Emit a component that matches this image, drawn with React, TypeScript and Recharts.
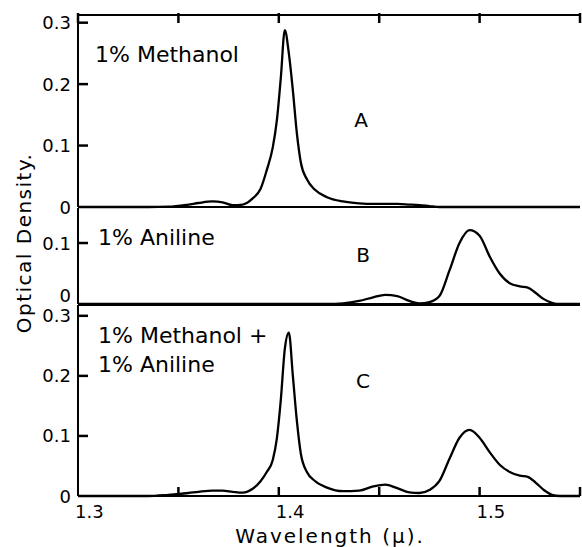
import { LineChart, Line, XAxis, YAxis, ReferenceLine } from "recharts";

// wavelength in microns
const wavelength = [
  1.3, 1.32, 1.335, 1.345, 1.355, 1.36, 1.367, 1.372, 1.377, 1.382, 1.387, 1.391,
  1.394, 1.397, 1.399, 1.401, 1.403, 1.405, 1.407, 1.409, 1.411, 1.414, 1.418,
  1.424, 1.432, 1.44, 1.447, 1.453, 1.459, 1.465, 1.47, 1.475, 1.48, 1.485, 1.49,
  1.495, 1.5, 1.505, 1.51, 1.515, 1.52, 1.524, 1.528, 1.532, 1.536, 1.54, 1.55,
];

const methanol = [
  0, 0, 0, 0.0005, 0.004, 0.0065, 0.009, 0.0075, 0.003, 0.004, 0.014, 0.03,
  0.06, 0.097, 0.14, 0.21, 0.288, 0.25, 0.19, 0.12, 0.072, 0.045, 0.028,
  0.016, 0.009, 0.006, 0.005, 0.005, 0.005, 0.004, 0.003, 0.0015, 0, 0, 0,
  0, 0, 0, 0, 0, 0, 0, 0, 0, 0, 0, 0,
];

const aniline = [
  0, 0, 0, 0, 0, 0, 0, 0, 0, 0, 0, 0,
  0, 0, 0, 0, 0, 0, 0, 0, 0, 0, 0,
  0, 0.001, 0.005, 0.011, 0.015, 0.013, 0.005, 0.001, 0.003, 0.013, 0.055, 0.1,
  0.121, 0.112, 0.078, 0.05, 0.034, 0.029, 0.027, 0.018, 0.008, 0.002, 0, 0,
];

const mixture = [
  0, 0, 0, 0.002, 0.005, 0.007, 0.009, 0.009, 0.007, 0.0055, 0.012, 0.025,
  0.04, 0.06, 0.095, 0.16, 0.245, 0.272, 0.2, 0.125, 0.07, 0.04, 0.025,
  0.014, 0.008, 0.009, 0.016, 0.019, 0.013, 0.006, 0.005, 0.01, 0.025, 0.062, 0.097,
  0.11, 0.097, 0.073, 0.052, 0.04, 0.034, 0.032, 0.022, 0.01, 0.002, 0, 0,
];

const xTicks = [1.3, 1.35, 1.4, 1.45, 1.5, 1.55];
const xTickLabels = ["1.3", "", "1.4", "", "1.5", ""];
const yTicksA = [0, 0.1, 0.2, 0.3];
const yTicksB = [0, 0.1];
const yTicksC = [0, 0.1, 0.2, 0.3];

const rows = wavelength.map((w, i) => ({
  w,
  a: methanol[i],
  b: aniline[i],
  c: mixture[i],
}));

const FONT = "DejaVu Sans";
const W = 582;
const PLOT_X = 78;
const PLOT_W = 502;
const xDomain: [number, number] = [1.3, 1.55];
const yMaxA = 0.3125;
const yMaxB = 0.1574;
const yMaxC = 0.318;
const margin = { left: 0, right: 2 };
const axisLine = { stroke: "#000", strokeWidth: 2 };

// panel frames in page pixels: zero line and height of each plot
const panels = [
  { zero: 207, h: 192, max: yMaxA, ticks: yTicksA },
  { zero: 304, h: 96, max: yMaxB, ticks: yTicksB },
  { zero: 496, h: 191, max: yMaxC, ticks: yTicksC },
];
const xPx = (w: number) => PLOT_X + ((w - xDomain[0]) / (xDomain[1] - xDomain[0])) * PLOT_W;

const yTick = (zeroDy: number) => (props: any) => {
  const { x, y, payload } = props;
  const v = payload.value;
  return (
    <text
      x={x + 1}
      y={v === 0 ? y + zeroDy : y}
      textAnchor="end"
      dominantBaseline="central"
      fontSize={18}
      fontFamily={FONT}
      fill="#000"
    >
      {v === 0 ? "0" : v.toFixed(1)}
    </text>
  );
};

const topTick = (props: any) => {
  const { x, y } = props;
  return <line x1={x} x2={x} y1={y + 6} y2={y + 16} stroke="#000" strokeWidth={2.5} />;
};

const bottomTick = (props: any) => {
  const { x, y, payload } = props;
  const label = xTickLabels[xTicks.indexOf(payload.value)] || "";
  return (
    <text x={x - 3} y={y + 14} textAnchor="start" fontSize={18} fontFamily={FONT} fill="#000">
      {label}
    </text>
  );
};

const lineProps = {
  type: "monotone" as const,
  stroke: "#000",
  strokeWidth: 2.3,
  dot: false,
  isAnimationActive: false,
};

export default function App() {
  return (
    <div style={{ position: "absolute", left: 0, top: 0, width: W, height: 547, background: "#fff" }}>
      {/* A: methanol */}
      <div style={{ position: "absolute", left: 0, top: 0 }}>
        <LineChart width={W} height={216} data={rows} margin={{ ...margin, top: 0, bottom: 9 }}>
          <XAxis
            type="number"
            dataKey="w"
            orientation="top"
            domain={xDomain}
            ticks={xTicks}
            interval={0}
            height={15}
            tickLine={false}
            tick={topTick}
            axisLine={axisLine}
          />
          <YAxis
            width={78}
            domain={[0, yMaxA]}
            ticks={yTicksA}
            interval={0}
            tickLine={false}
            tick={yTick(0)}
            axisLine={axisLine}
          />
          <ReferenceLine y={0} stroke="#000" strokeWidth={2} />
          <Line dataKey="a" {...lineProps} />
        </LineChart>
      </div>

      {/* B: aniline */}
      <div style={{ position: "absolute", left: 0, top: 204 }}>
        <LineChart width={W} height={104} data={rows} margin={{ ...margin, top: 4, bottom: 4 }}>
          <XAxis type="number" dataKey="w" domain={xDomain} hide />
          <YAxis
            width={78}
            domain={[0, yMaxB]}
            ticks={yTicksB}
            interval={0}
            tickLine={false}
            tick={yTick(-9)}
            axisLine={axisLine}
          />
          <ReferenceLine y={0} stroke="#000" strokeWidth={2} />
          <Line dataKey="b" {...lineProps} />
        </LineChart>
      </div>

      {/* C: mixture */}
      <div style={{ position: "absolute", left: 0, top: 300 }}>
        <LineChart width={W} height={236} data={rows} margin={{ ...margin, top: 5, bottom: 0 }}>
          <XAxis
            type="number"
            dataKey="w"
            domain={xDomain}
            ticks={xTicks}
            interval={0}
            height={40}
            tickLine={false}
            tick={bottomTick}
            axisLine={axisLine}
          />
          <YAxis
            width={78}
            domain={[0, yMaxC]}
            ticks={yTicksC}
            interval={0}
            tickLine={false}
            tick={yTick(0)}
            axisLine={axisLine}
          />
          <ReferenceLine y={yMaxC} stroke="#000" strokeWidth={2} />
          <Line dataKey="c" {...lineProps} />
        </LineChart>
      </div>

      {/* overlay: inward tick marks and titles */}
      <svg
        width={W}
        height={547}
        style={{ position: "absolute", left: 0, top: 0, pointerEvents: "none" }}
        fontFamily={FONT}
        fill="#000"
      >
        <g stroke="#000" strokeWidth={2.5}>
          {panels.map((p, i) =>
            p.ticks
              .filter((t) => t > 0)
              .map((t) => {
                const y = p.zero - (t / p.max) * p.h;
                return <line key={i + "-" + t} x1={PLOT_X} x2={PLOT_X + 10} y1={y} y2={y} />;
              })
          )}
          {xTicks
            .filter((t) => t > xDomain[0])
            .map((t) => (
              <line key={"b" + t} x1={xPx(t)} x2={xPx(t)} y1={496} y2={487} />
            ))}
        </g>
        <text x={95} y={62} fontSize={22}>1% Methanol</text>
        <text x={361} y={127} fontSize={20} textAnchor="middle">A</text>
        <text x={98} y={245} fontSize={22}>1% Aniline</text>
        <text x={363} y={262} fontSize={20} textAnchor="middle">B</text>
        <text x={98} y={343} fontSize={22}>1% Methanol +</text>
        <text x={98} y={372} fontSize={22}>1% Aniline</text>
        <text x={363} y={388} fontSize={20} textAnchor="middle">C</text>
        <text
          transform="translate(24, 243) rotate(-90)"
          textAnchor="middle"
          dominantBaseline="central"
          fontSize={20}
          letterSpacing={1.5}
        >
          Optical Density.
        </text>
        <text x={330} y={543} fontSize={20} letterSpacing={2} textAnchor="middle">
          Wavelength (μ).
        </text>
      </svg>
    </div>
  );
}
